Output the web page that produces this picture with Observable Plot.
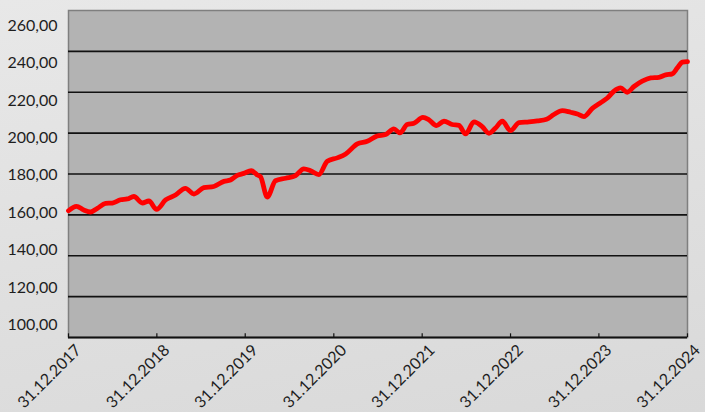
<!DOCTYPE html>
<html>
<head>
<meta charset="utf-8">
<script src="https://cdn.jsdelivr.net/npm/d3@7"></script>
<script src="https://cdn.jsdelivr.net/npm/@observablehq/plot@0.6"></script>
<style>
  html, body { margin: 0; padding: 0; }
  body {
    width: 705px; height: 412px; overflow: hidden;
    background: linear-gradient(170deg, #e8e8e8 0%, #e0e0e0 50%, #d9d9d9 100%);
    font-family: Lato, "Open Sans", sans-serif;
  }
  svg { display: block; }
</style>
</head>
<body>
<div id="chart"></div>
<script>
// Series (date, index value)
const dates = [
  "2017-12-31","2018-02-02","2018-03-04","2018-04-01","2018-04-29","2018-06-02","2018-06-30",
  "2018-08-03","2018-08-31","2018-09-27","2018-11-01","2018-11-28","2018-12-30","2019-02-05",
  "2019-03-18","2019-04-28","2019-06-02","2019-07-13","2019-08-23","2019-10-04","2019-10-31",
  "2019-11-28","2019-12-25","2020-01-25","2020-02-19","2020-03-03","2020-03-31","2020-05-04",
  "2020-06-15","2020-07-26","2020-08-29","2020-09-26","2020-10-30","2020-12-04","2021-01-14",
  "2021-02-18","2021-04-07","2021-05-18","2021-06-28","2021-08-02","2021-09-05","2021-09-30",
  "2021-10-30","2021-11-27","2022-01-03","2022-01-28","2022-02-28","2022-03-31","2022-05-04",
  "2022-06-01","2022-06-28","2022-08-02","2022-09-05","2022-10-03","2022-10-30","2022-11-27",
  "2022-12-31","2023-02-04","2023-03-17","2023-04-21","2023-05-29","2023-06-28","2023-08-02",
  "2023-09-05","2023-10-03","2023-10-30","2023-12-04","2024-01-07","2024-02-04","2024-03-02",
  "2024-03-30","2024-04-26","2024-05-24","2024-06-27","2024-08-01","2024-09-04","2024-10-02",
  "2024-10-29","2024-11-19","2024-12-10","2024-12-31"
];
const values = [
  162.0,164.2,162.4,161.4,163.2,165.6,165.8,
  167.4,167.8,169.0,165.8,166.8,162.7,167.3,
  169.7,173.0,170.2,173.3,173.9,176.4,177.1,
  179.3,180.3,181.6,179.5,178.7,168.7,176.7,
  177.9,179.2,182.5,181.6,179.7,186.2,187.9,
  189.8,194.7,196.0,198.6,199.3,202.1,200.1,
  204.2,204.8,207.7,206.5,203.7,205.8,204.2,
  203.8,199.6,205.5,203.2,199.9,202.5,205.8,
  201.2,205.1,205.5,206.0,206.8,209.1,211.0,
  210.2,209.4,208.1,212.1,214.9,217.2,220.5,
  222.1,220.0,222.8,225.4,227.0,227.3,228.5,
  229.0,231.9,234.7,235.0
];
const yTicks = [100, 120, 140, 160, 180, 200, 220, 240, 260];
const yTickLabels = ["100,00","120,00","140,00","160,00","180,00","200,00","220,00","240,00","260,00"];
const xTicks = ["2017-12-31","2018-12-31","2019-12-31","2020-12-31","2021-12-31","2022-12-31","2023-12-31","2024-12-31"];
const xTickLabels = ["31.12.2017","31.12.2018","31.12.2019","31.12.2020","31.12.2021","31.12.2022","31.12.2023","31.12.2024"];

const parse = d3.utcParse("%Y-%m-%d");
const series = dates.map((d, i) => ({date: parse(d), value: values[i]}));
const xt = xTicks.map((d, i) => ({date: parse(d), label: xTickLabels[i]}));
const yMin = yTicks[0], yMax = yTicks[yTicks.length - 1];
// the source's labels are spread slightly tighter than its gridlines
const labelPos = v => 106.2 + (v - yMin) * 0.915;
const yt = yTicks.map((v, i) => ({v, pos: labelPos(v), label: yTickLabels[i]}));

const chart = Plot.plot({
  width: 705,
  height: 412,
  marginLeft: 68,
  marginRight: 18,
  marginTop: 10,
  marginBottom: 75,
  style: {background: "transparent", overflow: "visible", fontFamily: "Lato, sans-serif"},
  x: {type: "utc", domain: [parse(xTicks[0]), parse(xTicks[xTicks.length - 1])], axis: null},
  y: {domain: [yMin, yMax], axis: null},
  marks: [
    Plot.frame({fill: "#b3b3b3", stroke: "#7f7f7f", strokeWidth: 1.5}),
    Plot.gridY(yTicks.filter(v => v > yMin && v < yMax), {stroke: "#111", strokeOpacity: 1, strokeWidth: 1.6}),
    Plot.ruleY([yMin], {stroke: "#111", strokeWidth: 2.2}),
    Plot.ruleX(xt, {x: "date", y1: yMin, y2: yMin + 1.8, stroke: "#111", strokeWidth: 1.2}),
    Plot.line(series, {x: "date", y: "value", stroke: "#ff0000", strokeWidth: 4.8, curve: "monotone-x", strokeLinejoin: "round", strokeLinecap: "round"}),
    Plot.text(yt, {x: parse(xTicks[0]), y: "pos", text: "label", textAnchor: "end", dx: -11, fontSize: 16, fill: "#1e1e1e", letterSpacing: "-0.6px"}),
    Plot.text(xt, {x: "date", y: yMin, text: "label", rotate: -45, textAnchor: "end", lineAnchor: "middle", dx: 10, dy: 10, fontSize: 16, fill: "#1e1e1e", letterSpacing: "-0.7px"})
  ]
});
document.getElementById("chart").appendChild(chart);
</script>
</body>
</html>
